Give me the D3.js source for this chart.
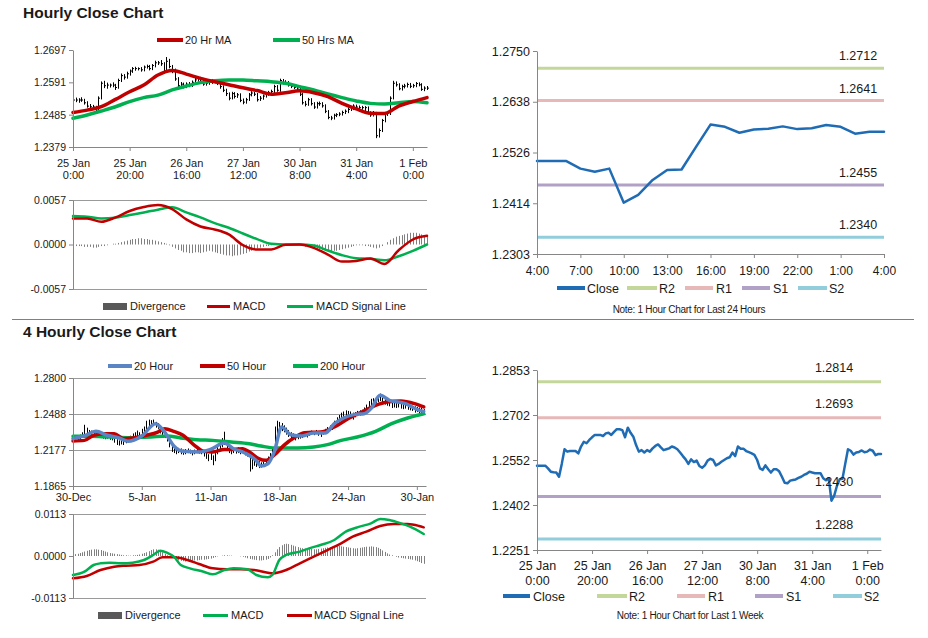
<!DOCTYPE html>
<html><head><meta charset="utf-8">
<script src="https://cdn.jsdelivr.net/npm/d3@7"></script>
<style>body{margin:0;background:#fff}</style>
</head><body><svg id="c" width="928" height="638"></svg>
<script>
// ---------------- DATA ----------------
// Hourly (last week), 126 hourly bars: 25 Jan 0:00 .. 1 Feb 5:00
const hourTickIdx = [0,20,40,60,80,100,120];
const hourTickLabels = ["25 Jan\n0:00","25 Jan\n20:00","26 Jan\n16:00","27 Jan\n12:00","30 Jan\n8:00","31 Jan\n4:00","1 Feb\n0:00"];
const weekClose = [1.2533,1.2533,1.2533,1.2533,1.2524,1.2513,1.2511,1.2510,1.2496,1.2539,
 1.2588,1.2580,1.2582,1.2582,1.2582,1.2574,1.2597,1.2613,1.2608,1.2619,
 1.2628,1.2636,1.2636,1.2636,1.2632,1.2641,1.2643,1.2636,1.2646,1.2655,
 1.2655,1.2652,1.2628,1.2660,1.2643,1.2630,1.2602,1.2580,1.2585,1.2577,
 1.2585,1.2580,1.2591,1.2599,1.2604,1.2594,1.2585,1.2588,1.2591,1.2597,
 1.2594,1.2588,1.2577,1.2565,1.2554,1.2539,1.2554,1.2545,1.2550,1.2532,
 1.2526,1.2534,1.2550,1.2556,1.2552,1.2534,1.2539,1.2546,1.2552,1.2558,
 1.2561,1.2577,1.2565,1.2597,1.2590,1.2590,1.2582,1.2578,1.2574,1.2569,
 1.2552,1.2524,1.2519,1.2534,1.2521,1.2510,1.2521,1.2521,1.2514,1.2496,
 1.2476,1.2474,1.2483,1.2485,1.2487,1.2492,1.2496,1.2502,1.2506,1.2513,
 1.2510,1.2508,1.2508,1.2508,1.2491,1.2484,1.2491,1.2416,1.2433,1.2466,
 1.2488,1.2489,1.2539,1.2588,1.2583,1.2570,1.2577,1.2579,1.2584,1.2578,
 1.2580,1.2587,1.2583,1.2568,1.2572,1.2572];
const hourHigh = [1.2540,1.2541,1.2539,1.2542,1.2537,1.2529,1.2520,1.2517,1.2514,1.2545,
 1.2594,1.2596,1.2590,1.2587,1.2591,1.2586,1.2603,1.2620,1.2618,1.2626,
 1.2633,1.2641,1.2642,1.2640,1.2641,1.2646,1.2649,1.2648,1.2651,1.2662,
 1.2661,1.2664,1.2657,1.2674,1.2668,1.2648,1.2636,1.2608,1.2592,1.2590,
 1.2591,1.2592,1.2597,1.2606,1.2610,1.2609,1.2599,1.2594,1.2597,1.2602,
 1.2601,1.2599,1.2592,1.2581,1.2570,1.2558,1.2560,1.2559,1.2556,1.2555,
 1.2538,1.2540,1.2556,1.2562,1.2560,1.2556,1.2546,1.2551,1.2557,1.2563,
 1.2567,1.2583,1.2582,1.2603,1.2602,1.2598,1.2595,1.2588,1.2584,1.2579,
 1.2574,1.2557,1.2530,1.2540,1.2539,1.2526,1.2527,1.2528,1.2526,1.2519,
 1.2500,1.2481,1.2488,1.2490,1.2493,1.2498,1.2502,1.2508,1.2512,1.2519,
 1.2518,1.2515,1.2514,1.2513,1.2512,1.2496,1.2497,1.2494,1.2440,1.2471,
 1.2494,1.2497,1.2545,1.2596,1.2594,1.2588,1.2583,1.2586,1.2590,1.2589,
 1.2586,1.2592,1.2591,1.2588,1.2578,1.2579];
const hourLow = [1.2522,1.2526,1.2524,1.2527,1.2518,1.2508,1.2505,1.2503,1.2490,1.2493,
 1.2535,1.2572,1.2570,1.2574,1.2575,1.2566,1.2570,1.2592,1.2600,1.2603,
 1.2613,1.2622,1.2629,1.2630,1.2626,1.2627,1.2636,1.2630,1.2631,1.2640,
 1.2648,1.2645,1.2622,1.2625,1.2637,1.2621,1.2596,1.2572,1.2574,1.2571,
 1.2572,1.2575,1.2576,1.2586,1.2593,1.2589,1.2580,1.2580,1.2583,1.2586,
 1.2588,1.2582,1.2570,1.2559,1.2546,1.2532,1.2535,1.2538,1.2540,1.2526,
 1.2519,1.2521,1.2530,1.2545,1.2546,1.2528,1.2530,1.2534,1.2541,1.2547,
 1.2553,1.2556,1.2560,1.2560,1.2584,1.2583,1.2577,1.2572,1.2569,1.2563,
 1.2546,1.2518,1.2512,1.2514,1.2515,1.2504,1.2505,1.2514,1.2508,1.2490,
 1.2470,1.2467,1.2469,1.2477,1.2480,1.2482,1.2487,1.2490,1.2497,1.2500,
 1.2504,1.2502,1.2501,1.2496,1.2486,1.2478,1.2479,1.2408,1.2410,1.2428,
 1.2460,1.2481,1.2484,1.2535,1.2577,1.2565,1.2564,1.2571,1.2574,1.2572,
 1.2573,1.2575,1.2578,1.2563,1.2562,1.2566];
// moving averages / MACD sampled every 5 hours
const hourSampleIdx = [0,5,10,15,20,25,30,35,40,45,50,55,60,65,70,75,80,85,90,95,100,105,110,115,120,125];
const ma20Hr = [1.2492,1.2500,1.2511,1.2535,1.2560,1.2582,1.2615,1.2630,1.2618,1.2604,1.2593,1.2583,1.2573,1.2564,1.2552,1.2557,1.2563,1.2557,1.2544,1.2522,1.2504,1.2490,1.2489,1.2513,1.2528,1.2541];
const ma50Hr = [1.2473,1.2484,1.2497,1.2511,1.2528,1.2541,1.2549,1.2566,1.2579,1.2590,1.2596,1.2599,1.2599,1.2596,1.2593,1.2588,1.2577,1.2566,1.2553,1.2541,1.2530,1.2522,1.2520,1.2524,1.2528,1.2524];
const macdHour = [0.00334,0.00334,0.00291,0.00347,0.00429,0.00480,0.00506,0.00454,0.00321,0.00231,0.00193,0.00129,-0.00009,-0.00064,-0.00064,-0.00004,0.00000,-0.00043,-0.00129,-0.00219,-0.00210,-0.00180,-0.00249,-0.00073,0.00064,0.00111];
const signalHour = [0.00364,0.00356,0.00334,0.00343,0.00377,0.00411,0.00446,0.00476,0.00411,0.00347,0.00274,0.00214,0.00141,0.00069,0.00009,0.00000,0.00000,-0.00013,-0.00077,-0.00137,-0.00176,-0.00184,-0.00201,-0.00150,-0.00081,0.00000];
const divHour = [-0.0002,-0.0002,-0.0002,-0.0002,-0.0003,-0.0003,-0.0003,-0.0004,-0.0004,-0.0003,
 -0.0002,-0.0002,-0.0001,0.0000,0.0001,0.0001,0.0002,0.0003,0.0004,0.0005,
 0.0006,0.0007,0.0007,0.0008,0.0008,0.0007,0.0007,0.0006,0.0006,0.0005,
 0.0004,0.0003,0.0002,0.0001,-0.0001,-0.0003,-0.0005,-0.0007,-0.0008,-0.0010,
 -0.0010,-0.0011,-0.0011,-0.0010,-0.0010,-0.0011,-0.0010,-0.0009,-0.0008,-0.0009,
 -0.0010,-0.0011,-0.0012,-0.0013,-0.0014,-0.0014,-0.0015,-0.0014,-0.0014,-0.0013,
 -0.0012,-0.0011,-0.0009,-0.0008,-0.0007,-0.0005,-0.0004,-0.0003,-0.0002,-0.0002,
 -0.0001,0.0000,0.0001,0.0001,0.0001,0.0000,0.0000,0.0000,-0.0001,-0.0001,
 -0.0001,-0.0002,-0.0003,-0.0003,-0.0004,-0.0004,-0.0005,-0.0006,-0.0007,-0.0008,
 -0.0009,-0.0009,-0.0008,-0.0008,-0.0007,-0.0006,-0.0005,-0.0004,-0.0003,-0.0002,
 -0.0001,-0.0001,-0.0001,-0.0002,-0.0002,-0.0003,-0.0004,-0.0005,-0.0004,-0.0002,
 0.0000,0.0003,0.0006,0.0008,0.0010,0.0011,0.0012,0.0013,0.0014,0.0015,
 0.0015,0.0015,0.0014,0.0013,0.0012,0.0012];

// last 24 hours
const dayTickIdx = [0,3,6,9,12,15,18,21,24];
const dayTickLabels = ["4:00","7:00","10:00","13:00","16:00","19:00","22:00","1:00","4:00"];
const dayClose = [1.2508,1.2508,1.2508,1.2491,1.2484,1.2491,1.2416,1.2433,1.2466,1.2488,1.2489,1.2539,1.2588,1.2583,1.2570,1.2577,1.2579,1.2584,1.2578,1.2580,1.2587,1.2583,1.2568,1.2572,1.2572];
const levelNames = ["R2","R1","S1","S2"];
const dayLevels = [1.2712,1.2641,1.2455,1.2340];
const weekLevels = [1.2814,1.2693,1.2430,1.2288];
const dayYLabels = ["1.2303","1.2414","1.2526","1.2638","1.2750"];
const weekYLabels = ["1.2251","1.2402","1.2552","1.2702","1.2853"];
const hourYLabels = ["1.2379","1.2485","1.2591","1.2697"];
const hourMacdLabels = ["-0.0057","0.0000","0.0057"];

// 4-hourly, 154 bars
const fourTickIdx = [0,30,60,90,120,150];
const fourTickLabels = ["30-Dec","5-Jan","11-Jan","18-Jan","24-Jan","30-Jan"];
const fourYLabels = ["1.1865","1.2177","1.2488","1.2800"];
const fourMacdLabels = ["-0.0113","0.0000","0.0113"];
const fourLow = [1.2255,1.2260,1.2250,1.2265,1.2280,1.2300,1.2310,1.2300,1.2305,1.2315,
 1.2310,1.2290,1.2280,1.2275,1.2270,1.2275,1.2265,1.2260,1.2240,1.2220,
 1.2215,1.2225,1.2220,1.2235,1.2250,1.2265,1.2280,1.2290,1.2295,1.2280,
 1.2300,1.2320,1.2350,1.2370,1.2380,1.2385,1.2370,1.2360,1.2320,1.2300,
 1.2280,1.2250,1.2200,1.2160,1.2150,1.2140,1.2150,1.2140,1.2135,1.2140,
 1.2150,1.2145,1.2130,1.2140,1.2150,1.2145,1.2140,1.2120,1.2100,1.2080,
 1.2090,1.2045,1.2080,1.2140,1.2180,1.2200,1.2220,1.2180,1.2150,1.2140,
 1.2150,1.2145,1.2150,1.2140,1.2145,1.2130,1.2120,1.1990,1.2010,1.2040,
 1.2030,1.2020,1.2025,1.2030,1.2040,1.2060,1.2090,1.2130,1.2180,1.2250,
 1.2360,1.2340,1.2330,1.2310,1.2290,1.2280,1.2270,1.2260,1.2270,1.2275,
 1.2280,1.2290,1.2285,1.2300,1.2310,1.2305,1.2315,1.2300,1.2290,1.2310,
 1.2320,1.2330,1.2340,1.2350,1.2370,1.2400,1.2420,1.2440,1.2460,1.2470,
 1.2465,1.2470,1.2440,1.2460,1.2470,1.2475,1.2480,1.2490,1.2510,1.2540,
 1.2560,1.2570,1.2580,1.2590,1.2600,1.2580,1.2570,1.2560,1.2555,1.2540,
 1.2545,1.2540,1.2545,1.2535,1.2530,1.2535,1.2525,1.2520,1.2515,1.2500,
 1.2505,1.2495,1.2490,1.2485];
const fourHigh = [1.2290,1.2300,1.2285,1.2310,1.2330,1.2395,1.2370,1.2350,1.2345,1.2350,
 1.2345,1.2330,1.2315,1.2310,1.2305,1.2305,1.2300,1.2295,1.2290,1.2270,
 1.2260,1.2265,1.2255,1.2275,1.2290,1.2300,1.2320,1.2330,1.2345,1.2330,
 1.2360,1.2380,1.2430,1.2440,1.2435,1.2440,1.2420,1.2410,1.2380,1.2350,
 1.2330,1.2310,1.2270,1.2240,1.2220,1.2200,1.2195,1.2190,1.2180,1.2185,
 1.2190,1.2180,1.2175,1.2180,1.2185,1.2180,1.2175,1.2165,1.2150,1.2140,
 1.2150,1.2130,1.2160,1.2220,1.2250,1.2280,1.2335,1.2260,1.2200,1.2190,
 1.2195,1.2185,1.2200,1.2190,1.2195,1.2180,1.2175,1.2150,1.2120,1.2110,
 1.2090,1.2080,1.2070,1.2075,1.2085,1.2120,1.2150,1.2200,1.2380,1.2430,
 1.2420,1.2410,1.2390,1.2370,1.2350,1.2330,1.2320,1.2310,1.2310,1.2315,
 1.2320,1.2325,1.2320,1.2335,1.2345,1.2340,1.2350,1.2340,1.2330,1.2345,
 1.2360,1.2375,1.2390,1.2400,1.2430,1.2460,1.2480,1.2500,1.2510,1.2520,
 1.2515,1.2510,1.2500,1.2505,1.2515,1.2520,1.2525,1.2545,1.2570,1.2600,
 1.2620,1.2625,1.2630,1.2645,1.2665,1.2630,1.2620,1.2610,1.2600,1.2590,
 1.2590,1.2585,1.2590,1.2580,1.2575,1.2580,1.2575,1.2565,1.2560,1.2555,
 1.2550,1.2545,1.2540,1.2530];
const ma20FourIdx = [0,5,10,15,20,24,30,36,40,44,48,55,60,66,70,75,80,82,85,88,91,95,100,105,110,114,118,123,127,130,134,138,145,150,153];
const ma20Four = [1.2275,1.2301,1.2338,1.2304,1.2281,1.2252,1.2298,1.2405,1.2332,1.2211,1.2165,1.2159,1.2182,1.2237,1.2188,1.2151,1.2084,1.2038,1.2058,1.2174,1.2376,1.2309,1.2298,1.2324,1.2324,1.2405,1.2454,1.2485,1.2491,1.2535,1.2650,1.2607,1.2578,1.2529,1.2511];
const ma50FourIdx = [0,5,9,13,18,22,26,32,37,40,44,48,53,57,61,66,70,74,77,81,84,88,92,97,101,108,114,120,126,132,137,143,149,153];
const ma50Four = [1.2255,1.2260,1.2304,1.2318,1.2318,1.2275,1.2281,1.2304,1.2332,1.2361,1.2338,1.2304,1.2217,1.2165,1.2159,1.2182,1.2182,1.2188,1.2159,1.2102,1.2087,1.2136,1.2217,1.2289,1.2327,1.2332,1.2376,1.2448,1.2506,1.2563,1.2592,1.2601,1.2578,1.2549];
const ma200FourIdx = [0,7,16,25,34,41,47,54,61,69,77,82,88,98,105,111,117,124,132,139,146,153];
const ma200Four = [1.2295,1.2295,1.2289,1.2283,1.2289,1.2298,1.2281,1.2266,1.2260,1.2246,1.2231,1.2211,1.2194,1.2194,1.2203,1.2223,1.2260,1.2289,1.2338,1.2405,1.2454,1.2491];
const macdFourIdx = [0,5,9,12,16,21,26,31,35,38,41,44,47,51,57,61,66,70,76,80,85,87,90,93,99,103,108,114,119,125,130,134,138,143,147,153];
const macdFour = [-0.00511,-0.00422,-0.00242,-0.00197,-0.00179,-0.00197,-0.00179,-0.00108,0.00027,0.00144,0.00090,-0.00018,-0.00242,-0.00332,-0.00422,-0.00493,-0.00377,-0.00332,-0.00359,-0.00511,-0.00574,-0.00511,-0.00108,0.00027,0.00117,0.00206,0.00296,0.00431,0.00655,0.00789,0.00879,0.00996,0.00969,0.00879,0.00789,0.00592];
const signalFourIdx = [0,6,12,18,23,29,35,39,44,50,55,61,67,73,79,85,87,93,99,105,111,117,122,128,134,140,146,151,153];
const signalFour = [-0.00601,-0.00538,-0.00377,-0.00287,-0.00260,-0.00242,-0.00152,-0.00036,-0.00036,-0.00108,-0.00215,-0.00332,-0.00359,-0.00359,-0.00377,-0.00449,-0.00466,-0.00377,-0.00197,-0.00018,0.00161,0.00341,0.00520,0.00655,0.00807,0.00861,0.00861,0.00807,0.00771];
const divFour = [0.0004,0.0005,0.0006,0.0008,0.0010,0.0012,0.0014,0.0016,0.0017,0.0018,
 0.0018,0.0017,0.0016,0.0014,0.0012,0.0010,0.0008,0.0007,0.0006,0.0005,
 0.0004,0.0003,0.0002,0.0002,0.0001,0.0001,0.0002,0.0002,0.0003,0.0004,
 0.0006,0.0008,0.0010,0.0013,0.0016,0.0018,0.0018,0.0017,0.0014,0.0010,
 0.0006,0.0002,-0.0002,-0.0005,-0.0008,-0.0010,-0.0012,-0.0013,-0.0014,-0.0015,
 -0.0014,-0.0013,-0.0013,-0.0012,-0.0012,-0.0011,-0.0010,-0.0010,-0.0009,-0.0008,
 -0.0007,-0.0005,-0.0003,-0.0001,0.0000,0.0001,0.0002,0.0002,0.0001,0.0001,
 0.0000,0.0000,0.0000,-0.0001,-0.0002,-0.0004,-0.0006,-0.0008,-0.0009,-0.0010,
 -0.0011,-0.0012,-0.0012,-0.0011,-0.0010,-0.0008,-0.0004,0.0002,0.0010,0.0018,
 0.0024,0.0029,0.0032,0.0033,0.0032,0.0030,0.0028,0.0026,0.0024,0.0022,
 0.0021,0.0020,0.0020,0.0019,0.0019,0.0018,0.0018,0.0019,0.0020,0.0021,
 0.0022,0.0023,0.0024,0.0025,0.0026,0.0026,0.0027,0.0026,0.0025,0.0024,
 0.0023,0.0022,0.0021,0.0020,0.0021,0.0022,0.0023,0.0024,0.0025,0.0025,
 0.0026,0.0025,0.0024,0.0022,0.0019,0.0015,0.0011,0.0007,0.0004,0.0002,
 0.0000,-0.0002,-0.0004,-0.0005,-0.0006,-0.0007,-0.0008,-0.0009,-0.0010,-0.0012,
 -0.0014,-0.0016,-0.0019,-0.0021];

// ---------------- STYLE ----------------
const FONT = '"Liberation Sans", Arial, Helvetica, sans-serif';
const TXT = "#1a1a1a", AX = "#868686", GRID = "#9a9a9a";
const RED = "#c00000", GREEN = "#00b050", BLUE = "#1f6cb5", BLUE2 = "#5b84c4", DIVC = "#7f7f7f";
const levelColors = ["#c4d79b","#e6b9b8","#b2a1c7","#92cddc"];

const svg = d3.select("#c");
svg.append("rect").attr("width",928).attr("height",638).attr("fill","#fff");

function text(x,y,s,size,opts={}){
  return svg.append("text").attr("x",x).attr("y",y).text(s)
    .attr("font-family",FONT).attr("font-size",size).attr("fill",TXT)
    .attr("font-weight",opts.bold?"bold":null).attr("text-anchor",opts.anchor||"start")
    .attr("letter-spacing",opts.ls||null);
}
function leftAxis(y, x, vals, labels, size){
  const g = svg.append("g").attr("transform",`translate(${x},0)`)
    .call(d3.axisLeft(y).tickValues(vals).tickFormat((d,i)=>labels[i]).tickSize(4).tickSizeOuter(0).tickPadding(3));
  g.select(".domain").attr("stroke",AX);
  g.selectAll(".tick line").attr("stroke",AX);
  g.selectAll(".tick text").attr("font-size",size).attr("font-family",FONT).attr("fill",TXT);
}
function bottomAxis(x, yPos, vals, labels, size, dy1, dy2){
  const g = svg.append("g").attr("transform",`translate(0,${yPos})`)
    .call(d3.axisBottom(x).tickValues(vals).tickFormat("").tickSize(4).tickSizeOuter(0));
  g.select(".domain").attr("stroke",AX);
  g.selectAll(".tick line").attr("stroke",AX);
  g.selectAll(".tick").each(function(d,i){
    const t = d3.select(this).append("text").attr("text-anchor","middle")
      .attr("font-size",size).attr("font-family",FONT).attr("fill",TXT);
    labels[i].split("\n").forEach((s,k)=>t.append("tspan").attr("x",0).attr("y",k?dy2:dy1).text(s));
  });
}
function evenTicks(y,n){ const [a,b]=y.domain(); return d3.range(n).map(k=>a+(b-a)*k/(n-1)); }
function hgrid(x,y,vals,color){
  svg.append("g").selectAll("line").data(vals).join("line")
    .attr("x1",x.range()[0]).attr("x2",x.range()[1]).attr("y1",d=>Math.round(y(d))+0.5).attr("y2",d=>Math.round(y(d))+0.5)
    .attr("stroke",color).attr("stroke-width",1);
}
function path(x,y,idx,vals,color,w,curve){
  svg.append("path").datum(vals.map((v,i)=>[idx[i],v]))
    .attr("d",d3.line().x(d=>x(d[0])).y(d=>y(d[1])).curve(curve||d3.curveLinear))
    .attr("fill","none").attr("stroke",color).attr("stroke-width",w).attr("stroke-linejoin","round").attr("stroke-linecap","round");
}
function legLine(x1,x2,y,color,w){ svg.append("line").attr("x1",x1).attr("x2",x2).attr("y1",y).attr("y2",y).attr("stroke",color).attr("stroke-width",w); }
function bars(x,y,low,high,close){
  const g = svg.append("g").attr("stroke","#000").attr("stroke-width",1);
  low.forEach((lo,i)=>{
    const xx = Math.round(x(i))+0.5;
    g.append("line").attr("x1",xx).attr("x2",xx).attr("y1",y(high[i])).attr("y2",y(lo));
    if(close) g.append("line").attr("x1",xx).attr("x2",xx+1.5).attr("y1",y(close[i])).attr("y2",y(close[i]));
  });
}
function divBars(x,y,vals){
  svg.append("g").selectAll("rect").data(vals).join("rect")
    .attr("x",(d,i)=>Math.round(x(i))).attr("width",1)
    .attr("y",d=>Math.min(y(d),y(0))).attr("height",d=>Math.abs(y(d)-y(0)))
    .attr("fill",DIVC);
}

// ---------------- HOURLY CLOSE (top-left) ----------------
text(23,18,"Hourly Close Chart",15.5,{bold:true});
{
  const x = d3.scaleLinear().domain([0,125]).range([73,427]);
  const y = d3.scaleLinear().domain([1.2379,1.2697]).range([147,50]);
  bars(x,y,hourLow,hourHigh,weekClose);
  path(x,y,hourSampleIdx,ma50Hr,GREEN,3.5,d3.curveMonotoneX);
  path(x,y,hourSampleIdx,ma20Hr,RED,3.5,d3.curveMonotoneX);
  leftAxis(y,73,evenTicks(y,4),hourYLabels,10.5);
  bottomAxis(x,147,hourTickIdx,hourTickLabels,11,20,32);
  legLine(157,183,40,RED,4); text(185,44,"20 Hr MA",11);
  legLine(273,300,40,GREEN,4); text(302,44,"50 Hrs MA",11);

  // MACD
  const ym = d3.scaleLinear().domain([-0.0057,0.0057]).range([289,200]);
  hgrid(x,ym,[0.0057,-0.0057],GRID);
  divBars(x,ym,divHour);
  path(x,ym,hourSampleIdx,signalHour,GREEN,2.5,d3.curveMonotoneX);
  path(x,ym,hourSampleIdx,macdHour,RED,2.5,d3.curveMonotoneX);
  leftAxis(ym,73,evenTicks(ym,3),hourMacdLabels,10.5);
  svg.append("rect").attr("x",103).attr("y",303).attr("width",24).attr("height",7).attr("fill","#595959");
  text(130,310,"Divergence",11);
  legLine(207,230,306.5,RED,3); text(233,310,"MACD",11);
  legLine(287,313,306.5,GREEN,3); text(316,310,"MACD Signal Line",11);
}

// ---------------- LAST 24 HOURS (top-right) ----------------
{
  const x = d3.scaleLinear().domain([0,24]).range([537,884]);
  const y = d3.scaleLinear().domain([1.2303,1.2750]).range([254,51]);
  dayLevels.forEach((v,i)=>{
    svg.append("line").attr("x1",x(0)).attr("x2",x(24)).attr("y1",y(v)).attr("y2",y(v)).attr("stroke",levelColors[i]).attr("stroke-width",3);
    text(858,y(v)-8,v.toFixed(4),12.5,{anchor:"middle"});
  });
  path(x,y,d3.range(dayClose.length),dayClose,BLUE,2.5);
  leftAxis(y,537,evenTicks(y,5),dayYLabels,12.5);
  bottomAxis(x,254,dayTickIdx,dayTickLabels,12,21,21);
  legLine(557,585,288,BLUE,4); text(587,292.5,"Close",12.5);
  const lx = [[627,657,659],[685,713,716],[742,770,773],[798,827,829]];
  levelNames.forEach((n,i)=>{ legLine(lx[i][0],lx[i][1],288,levelColors[i],4); text(lx[i][2],292.5,n,12.5); });
  text(689,313,"Note: 1 Hour Chart for Last 24 Hours",10,{anchor:"middle",ls:-0.3});
}

// separator
svg.append("line").attr("x1",12).attr("x2",914).attr("y1",319.5).attr("y2",319.5).attr("stroke","#808080");

// ---------------- 4 HOURLY (bottom-left) ----------------
text(23,337,"4 Hourly Close Chart",15.5,{bold:true});
{
  const x = d3.scaleLinear().domain([0,154]).range([73,426]);
  const y = d3.scaleLinear().domain([1.1865,1.2800]).range([486,378]);
  hgrid(x,y,evenTicks(y,4).slice(1),GRID);
  bars(x,y,fourLow,fourHigh,null);
  path(x,y,ma200FourIdx,ma200Four,GREEN,3.5,d3.curveMonotoneX);
  path(x,y,ma50FourIdx,ma50Four,RED,3.5,d3.curveMonotoneX);
  path(x,y,ma20FourIdx,ma20Four,BLUE2,3.5,d3.curveMonotoneX);
  leftAxis(y,73,evenTicks(y,4),fourYLabels,10.5);
  bottomAxis(x,486,fourTickIdx,fourTickLabels,11,15,15);
  legLine(108,132,366,BLUE2,4); text(134,370,"20 Hour",11);
  legLine(200,225,366,RED,4); text(227,370,"50 Hour",11);
  legLine(293,318,366,GREEN,4); text(320,370,"200 Hour",11);

  const ym = d3.scaleLinear().domain([-0.0113,0.0113]).range([598,514]);
  hgrid(x,ym,[0.0113,-0.0113],GRID);
  divBars(x,ym,divFour);
  path(x,ym,signalFourIdx,signalFour,RED,2.5,d3.curveMonotoneX);
  path(x,ym,macdFourIdx,macdFour,GREEN,2.5,d3.curveMonotoneX);
  leftAxis(ym,73,evenTicks(ym,3),fourMacdLabels,10.5);
  svg.append("rect").attr("x",98).attr("y",612).attr("width",24).attr("height",7).attr("fill","#595959");
  text(125,619,"Divergence",11);
  legLine(203,228,615.5,GREEN,3); text(231,619,"MACD",11);
  legLine(287,312,615.5,RED,3); text(314,619,"MACD Signal Line",11);
}

// ---------------- LAST WEEK (bottom-right) ----------------
{
  const x = d3.scaleLinear().domain([0,125]).range([537,881]);
  const y = d3.scaleLinear().domain([1.2251,1.2853]).range([550,370]);
  weekLevels.forEach((v,i)=>{
    svg.append("line").attr("x1",x(0)).attr("x2",x(125)).attr("y1",y(v)).attr("y2",y(v)).attr("stroke",levelColors[i]).attr("stroke-width",3);
  });
  path(x,y,d3.range(weekClose.length),weekClose,BLUE,2.5);
  weekLevels.forEach((v,i)=> text(834,y(v)-10,v.toFixed(4),12.5,{anchor:"middle"}));
  leftAxis(y,537,evenTicks(y,5),weekYLabels,12.5);
  bottomAxis(x,550,hourTickIdx,hourTickLabels,12.5,19.5,34.5);
  legLine(503,530,596,BLUE,4); text(533,600.5,"Close",12.5);
  const lx = [[597,627,629],[677,705,708],[755,783,786],[833,862,864]];
  levelNames.forEach((n,i)=>{ legLine(lx[i][0],lx[i][1],596,levelColors[i],4); text(lx[i][2],600.5,n,12.5); });
  text(690,619,"Note: 1 Hour Chart for Last 1 Week",10,{anchor:"middle",ls:-0.3});
}
</script></body></html>
